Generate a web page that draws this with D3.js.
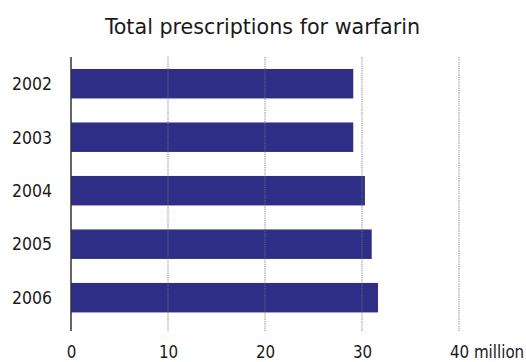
<!DOCTYPE html>
<html>
<head>
<meta charset="utf-8">
<script src="https://cdn.jsdelivr.net/npm/d3@7"></script>
<style>
  html, body { margin: 0; padding: 0; background: #fff; }
  svg { display: block; }
  text { font-family: "DejaVu Sans Condensed", "DejaVu Sans", sans-serif; fill: #1a1a1a; }
</style>
</head>
<body>
<svg id="chart" width="526" height="362"></svg>
<script>
const title = "Total prescriptions for warfarin";
const years = ["2002", "2003", "2004", "2005", "2006"];
const prescriptions = [29.1, 29.1, 30.3, 31.0, 31.65];
const tickValues = [0, 10, 20, 30, 40];
const tickLabels = ["0", "10", "20", "30", "40 million"];

const svg = d3.select("#chart");
const x = d3.scaleLinear().domain([0, 40]).range([71, 459]);
const y = d3.scaleBand().domain(years).range([55.6, 325.8]).paddingInner(0.449).paddingOuter(0.25);
const plotTop = 57, plotBottom = 331;
const fontFam = "\"DejaVu Sans Condensed\", \"DejaVu Sans\", sans-serif";

svg.append("text")
  .attr("x", 262.5).attr("y", 33.5)
  .attr("text-anchor", "middle")
  .attr("font-size", 20.5)
  .attr("textLength", 315).attr("lengthAdjust", "spacingAndGlyphs")
  .text(title);

const data = years.map((yr, i) => ({ yr, v: prescriptions[i] }));

svg.append("g").selectAll("rect").data(data).join("rect")
  .attr("x", x(0))
  .attr("y", d => y(d.yr))
  .attr("width", d => x(d.v) - x(0))
  .attr("height", y.bandwidth())
  .attr("fill", "#2e2e86");

// dotted gridlines (drawn over bars)
svg.append("g").selectAll("line").data(tickValues.filter(v => v > 0)).join("line")
  .attr("x1", d => x(d)).attr("x2", d => x(d))
  .attr("y1", plotTop).attr("y2", plotBottom)
  .attr("stroke", "#777").attr("stroke-opacity", 0.75)
  .attr("stroke-width", 1.2)
  .attr("stroke-dasharray", "1.2,1");

// vertical axis line
svg.append("line")
  .attr("x1", x(0)).attr("x2", x(0))
  .attr("y1", plotTop).attr("y2", plotBottom)
  .attr("stroke", "#333").attr("stroke-width", 1.5);

// year labels
svg.append("g").selectAll("text").data(years).join("text")
  .attr("x", 52)
  .attr("y", d => y(d) + y.bandwidth() / 2)
  .attr("dy", "0.36em")
  .attr("text-anchor", "end")
  .attr("font-size", 17.5)
  .text(d => d);

// bottom tick labels via d3 axis
const xAxis = d3.axisBottom(x)
  .tickValues(tickValues)
  .tickFormat((d, i) => tickLabels[i])
  .tickSize(0).tickPadding(0);
const ax = svg.append("g").attr("transform", "translate(0,357.5)").call(xAxis);
ax.select(".domain").remove();
ax.selectAll("text")
  .attr("font-size", 16.8)
  .attr("fill", "#1a1a1a")
  .attr("y", 0).attr("dy", 0)
  .style("font-family", fontFam);
// last label: keep the number centred on its tick, unit trailing
ax.selectAll(".tick text").filter((d, i) => i === tickValues.length - 1).each(function() {
  const t = d3.select(this);
  const tmp = ax.append("text").attr("font-size", 16.8)
    .style("font-family", fontFam)
    .text(String(tickValues[tickValues.length - 1]));
  const w = tmp.node().getComputedTextLength();
  tmp.remove();
  t.attr("text-anchor", "start").attr("x", -w / 2);
});
</script>
</body>
</html>
